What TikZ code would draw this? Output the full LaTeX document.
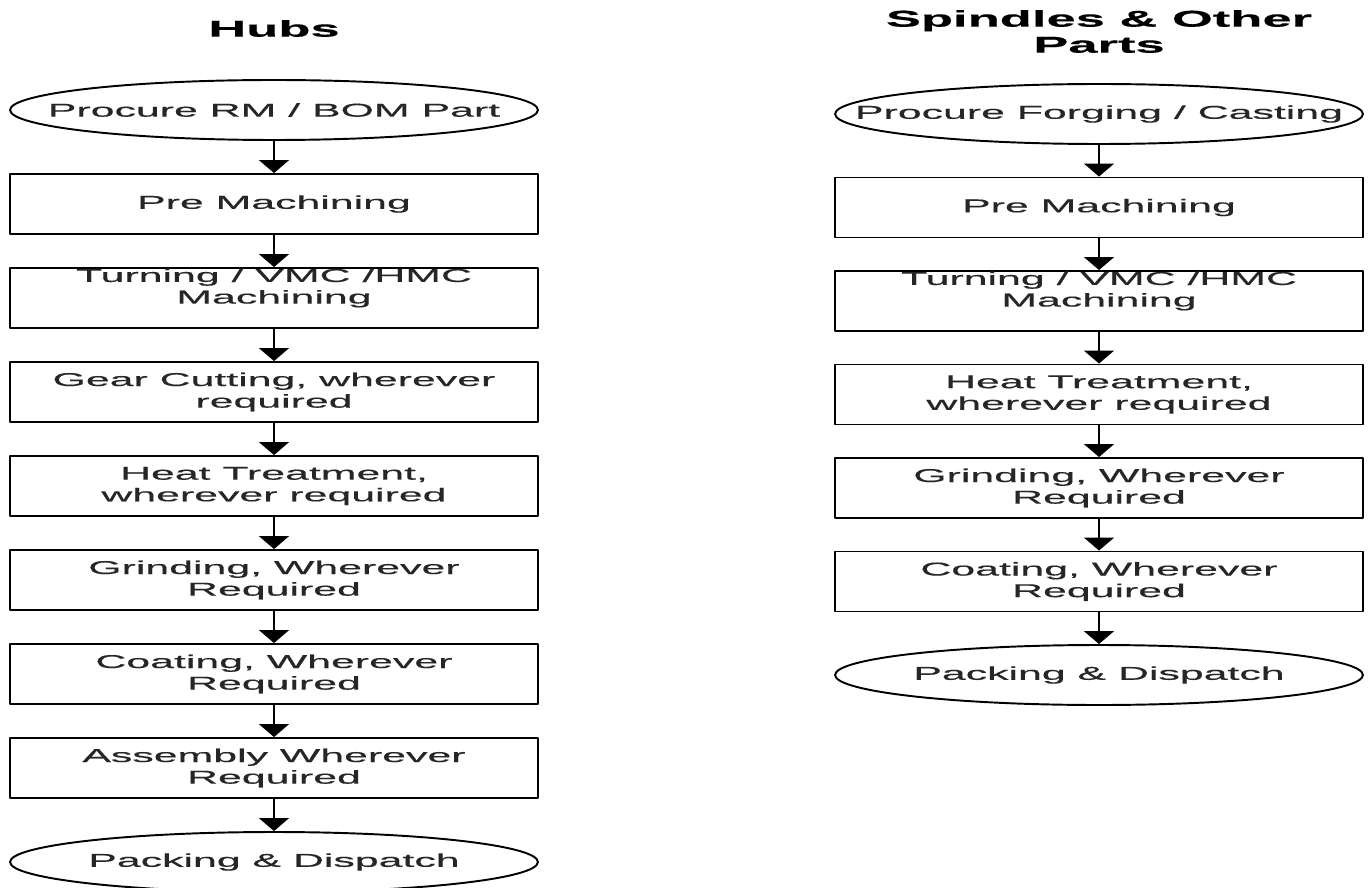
\documentclass[tikz,border=0pt]{standalone}
\usepackage{fontspec}
\setmainfont[FakeStretch=2.3,FakeBold=0.4]{Liberation Sans}
\usetikzlibrary{shapes.geometric,arrows.meta}
\newcommand\lift{\rule[-0.48cm]{0pt}{0pt}}
\tikzset{
	stepbox/.style={draw, line width=1.1pt, minimum width=10.56cm, minimum height=1.2cm, inner sep=0pt, align=center, text=black!85, font=\fontsize{10.6pt}{12.3pt}\selectfont},
	term/.style={stepbox, ellipse},
	flow/.style={-{Triangle[width=0.6cm,length=0.26cm]}, line width=1.1pt},
	heading/.style={font=\fontsize{13pt}{14.8pt}\selectfont\bfseries, align=center}
}
\begin{document}
\begin{tikzpicture}[x=0.02cm, y=0.02cm, line join=round]
	\useasboundingbox (0,0) rectangle (1371,-888);
	%Vị trí hai cột
	\def\hx{274}     \def\sx{1099}
	%Tiêu đề
	\node[heading] (hubs) at (\hx,-28.5) {Hubs};
	\node[heading] (spindles) at (\sx,-31.5) {Spindles \& Other\\Parts};
	%Cột Hubs
	\node[term] (h0) at (\hx,-110) {\makebox[0pt]{Procure RM / BOM Part}};
	\foreach \t [count=\i] in {Pre Machining, {Turning / VMC /HMC\\Machining\lift}, {Gear Cutting, wherever\\required}, {Heat Treatment,\\wherever required}, {Grinding, Wherever\\Required}, {Coating, Wherever\\Required}, {Assembly Wherever\\Required}}
	\node[stepbox] (h\i) at (\hx,-110-94*\i) {\t};
	\node[term] (h8) at (\hx,-862) {\makebox[0pt]{Packing \& Dispatch}};
	\foreach \i [remember=\i as \j (initially 0)] in {1,...,8}
	\draw[flow] (h\j) -- (h\i);
	%Cột Spindles
	\node[term] (s0) at (\sx,-114) {\makebox[0pt]{Procure Forging / Casting}};
	\foreach \t [count=\i] in {Pre Machining, {Turning / VMC /HMC\\Machining\lift}, {Heat Treatment,\\wherever required}, {Grinding, Wherever\\Required}, {Coating, Wherever\\Required}}
	\node[stepbox] (s\i) at (\sx,-114-93.5*\i) {\t};
	\node[term] (s6) at (\sx,-675) {\makebox[0pt]{Packing \& Dispatch}};
	\foreach \i [remember=\i as \j (initially 0)] in {1,...,6}
	\draw[flow] (s\j) -- (s\i);
\end{tikzpicture}
\end{document}
